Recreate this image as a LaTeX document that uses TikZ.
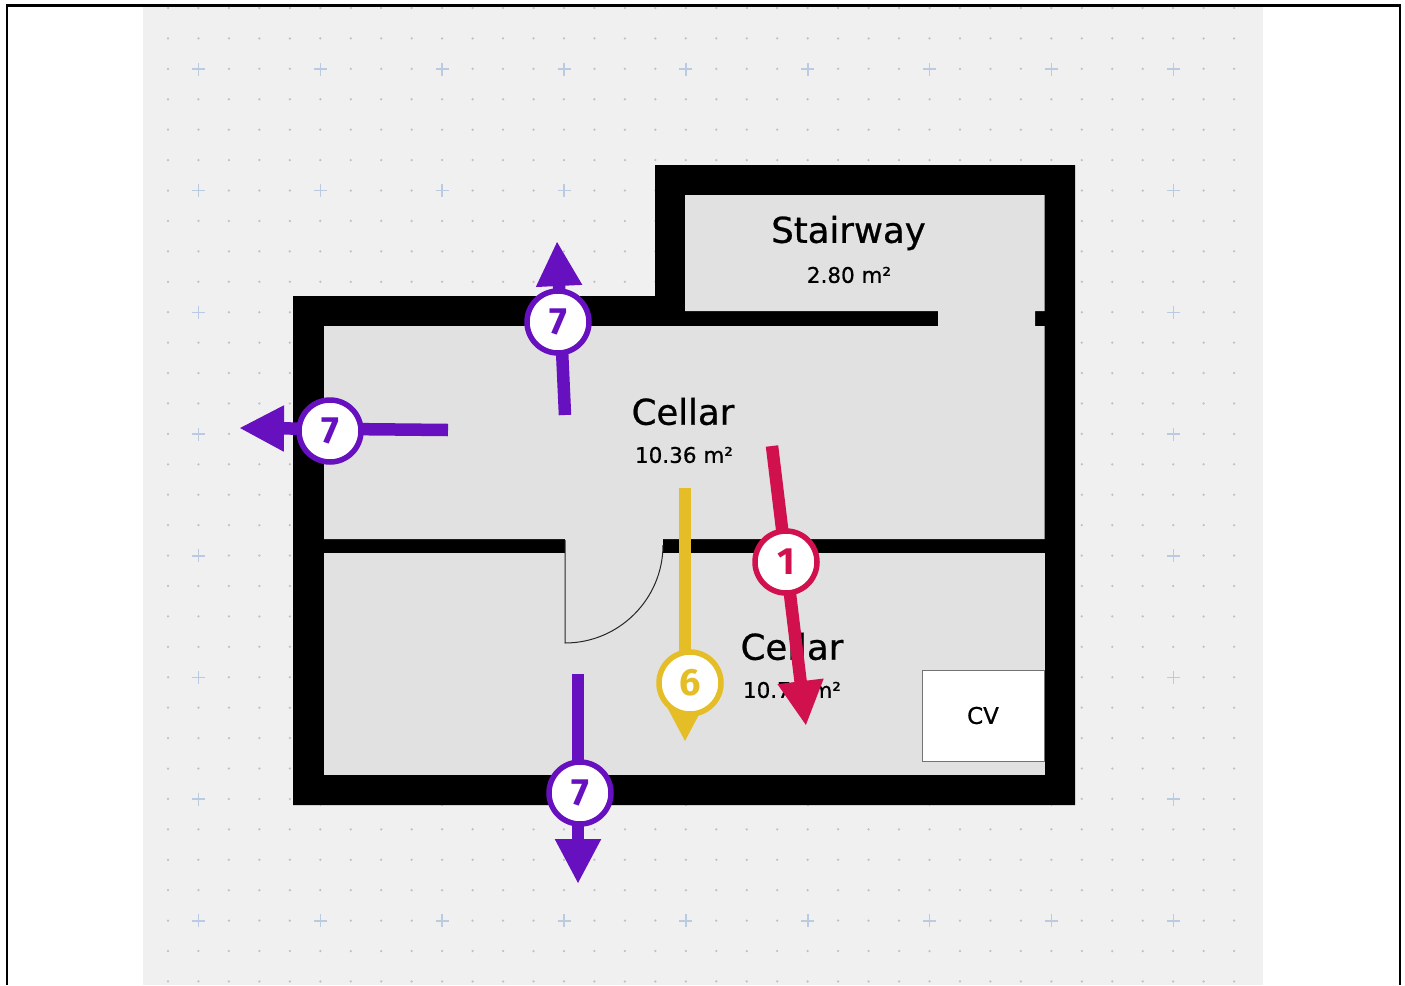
\documentclass[tikz,border=0pt]{standalone}
\usepackage{fontspec}
\setmainfont[RawFeature={embolden=0.7}]{DejaVu Sans}
\newfontfamily\numfont[Scale=1]{Fira Sans}
\usetikzlibrary{arrows.meta}
\definecolor{sheet}{HTML}{F0F0F1}
\definecolor{floorc}{HTML}{E1E1E1}
\definecolor{dotc}{HTML}{BEC0C6}
\definecolor{plusc}{HTML}{BACAE1}
\definecolor{redc}{HTML}{D0114E}
\definecolor{yelc}{HTML}{E5BE27}
\definecolor{purc}{HTML}{6710BF}
\pgfdeclarelayer{front}
\pgfsetlayers{main,front}
\newcommand{\badgetext}[1]{\raisebox{-1.5pt}{#1}}
\tikzset{
  x=1pt,y=-1pt,
  roomname/.style={font=\fontsize{35.5}{36}\selectfont,text=black,inner sep=0pt},
  roomarea/.style={font=\fontsize{21.5}{22}\selectfont,text=black,inner sep=0pt},
  badge/.style={circle,draw=#1,line width=5.5pt,fill=white,minimum size=62pt,inner sep=0pt,text=#1,font=\fontsize{38}{38}\selectfont\numfont\bfseries},
  flow/.style={draw=#1,line width=12.5pt,-{Triangle[length=45pt,width=43pt,fill=#1]}},
}
\begin{document}
\begin{tikzpicture}
\useasboundingbox (0,0) rectangle (1405,985);
\fill[white] (0,0) rectangle (1405,985);
\fill[sheet] (143,7) rectangle (1263,985);
\draw[black,line width=2.6pt] (7,985) -- (7,5.5) -- (1400,5.5) -- (1400,985);
% grid
\foreach \i in {0,...,35}{\foreach \j in {0,...,32}{
  \fill[dotc] ({168+30.46*\i},{8+30.42*\j}) circle (1.25);
}}
\foreach \i in {0,...,8}{\foreach \j in {0,...,7}{
  \fill[sheet] ({198.5+121.85*\i-8},{69+121.7*\j-8}) rectangle ++(16,16);
  \draw[plusc,line width=1.5pt] ({198.5+121.85*\i-6.5},{69+121.7*\j}) -- ++(13,0)
    ({198.5+121.85*\i},{69+121.7*\j-6.5}) -- ++(0,13);
}}
% plan
\fill[black] (293,296) -- (655,296) -- (655,165) -- (1075,165) -- (1075,805) -- (293,805) -- cycle;
\fill[floorc] (685,195) -- (1044.5,195) -- (1044.5,311) -- (1035,311) -- (1035,326) -- (1044.5,326)
  -- (1044.5,539) -- (324,539) -- (324,326) -- (938,326) -- (938,311) -- (685,311) -- cycle;
\fill[floorc] (324,553) -- (1044.5,553) -- (1044.5,775) -- (324,775) -- cycle;
\fill[floorc] (565,538) rectangle (663,554);
\draw[black!85,line width=1pt] (565,540) -- (565,643) .. controls (619,643) and (663,599) .. (663,545);
\node[draw=black!55,line width=1pt,fill=white,minimum width=122pt,minimum height=91pt,inner sep=0pt,font=\fontsize{23}{23}\selectfont] (cv) at (983,715.5) {CV};
% labels
\node[roomname] (stair) at (848.5,233) {Stairway};
\node[roomarea] (stairarea) at (849,275) {2.80 m²};
\node[roomname] (cellarA) at (683,411.5) {Cellar};
\node[roomarea] (cellarAarea) at (684,455) {10.36 m²};
\node[roomname] (cellarB) at (792,646.5) {Cellar};
\node[roomarea] (cellarBarea) at (792,690) {10.72 m²};
% badges
\begin{pgfonlayer}{front}
\node[badge=redc] (one) at (786,562) {\badgetext{1}};
\node[badge=yelc] (six) at (690,683) {\badgetext{6}};
\node[badge=purc] (sevenL) at (330,431) {\badgetext{7}};
\node[badge=purc] (sevenU) at (558,322) {\badgetext{7}};
\node[badge=purc] (sevenD) at (580,793) {\badgetext{7}};
\end{pgfonlayer}
% connectors
\coordinate (r1) at (772,446); \coordinate (r2) at (806,726);
\coordinate (y1) at (685,488); \coordinate (y2) at (685,742);
\coordinate (l1) at (448,430); \coordinate (l2) at (239,428);
\coordinate (u1) at (565,415); \coordinate (u2) at (557,241);
\coordinate (d1) at (578,674); \coordinate (d2) at (578,884);
\draw[flow=redc] (r1) -- (r2);
\draw[flow=yelc] (y1) -- (y2);
\draw[flow=purc] (l1) -- (l2);
\draw[flow=purc] (u1) -- (u2);
\draw[flow=purc] (d1) -- (d2);
\end{tikzpicture}
\end{document}
